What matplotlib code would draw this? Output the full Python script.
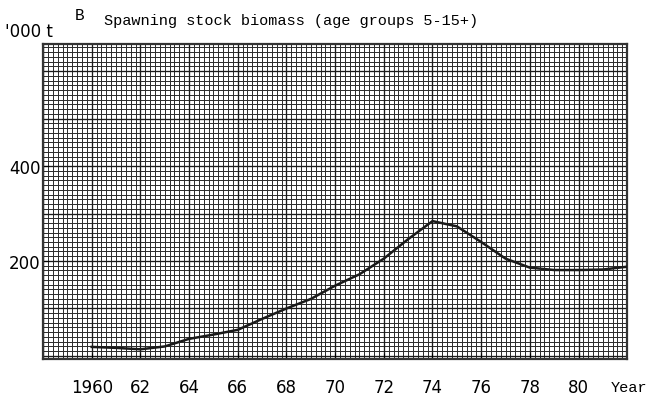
import matplotlib
matplotlib.use('Agg')
import matplotlib.pyplot as plt
import numpy as np

# Spawning stock biomass, '000 t
years = [1960, 1961, 1962, 1963, 1964, 1965, 1966, 1967, 1968, 1969, 1970,
         1971, 1972, 1973, 1974, 1975, 1976, 1977, 1978, 1979, 1980, 1981, 1982]
biomass = [19, 17, 14, 20, 36, 45, 55, 78, 100, 120, 148,
           172, 205, 246, 284, 273, 240, 205, 186, 181, 181, 182, 188]

xtick_pos = [1960, 1962, 1964, 1966, 1968, 1970, 1972, 1974, 1976, 1978, 1980]
xtick_labels = ['1960', '62', '64', '66', '68', '70', '72', '74', '76', '78', '80']
ytick_pos = [200, 400]
ytick_labels = ['200', '400']

mono = 'Liberation Mono'

fig = plt.figure(figsize=(6.52, 4.02), dpi=100)
ax = fig.add_axes([0.066, 0.105, 0.896, 0.783])
ax.set_xlim(1958, 1982)
ax.set_ylim(-6, 657)

# graph paper: fine squares, slightly heavier every 10 squares
for xv in np.arange(1958, 1982.01, 0.2):
    ax.axvline(xv, color='#2a2a2a', lw=0.7, zorder=1)
for yv in np.arange(0, 657, 10):
    ax.axhline(yv, color='#2a2a2a', lw=0.7, zorder=1)
for xv in np.arange(1958, 1982.01, 2):
    ax.axvline(xv, color='#1a1a1a', lw=0.95, zorder=1)
for yv in np.arange(0, 657, 100):
    ax.axhline(yv, color='#1a1a1a', lw=0.95, zorder=1)

ax.plot(years, biomass, color='#1a1a1a', lw=1.8, zorder=3)

ax.set_xticks(xtick_pos)
ax.set_xticklabels(xtick_labels, fontsize=12)
ax.set_yticks(ytick_pos)
ax.set_yticklabels(ytick_labels, fontsize=12)
ax.tick_params(direction='in', length=4)
ax.tick_params(axis='x', pad=14)
ax.tick_params(axis='y', pad=2)

for s in ax.spines.values():
    s.set_linewidth(1.6)
    s.set_color('#333333')

fig.text(0.115, 0.962, 'B', fontsize=11.5, family=mono, ha='left', va='center')
fig.text(0.16, 0.948, 'Spawning stock biomass (age groups 5-15+)', fontsize=11,
         family=mono, ha='left', va='center')
fig.text(0.008, 0.92, "'000 t", fontsize=12, ha='left', va='center')
fig.text(0.937, 0.036, 'Year', fontsize=11, family=mono, ha='left', va='center')

fig.savefig('out.png', dpi=100)
